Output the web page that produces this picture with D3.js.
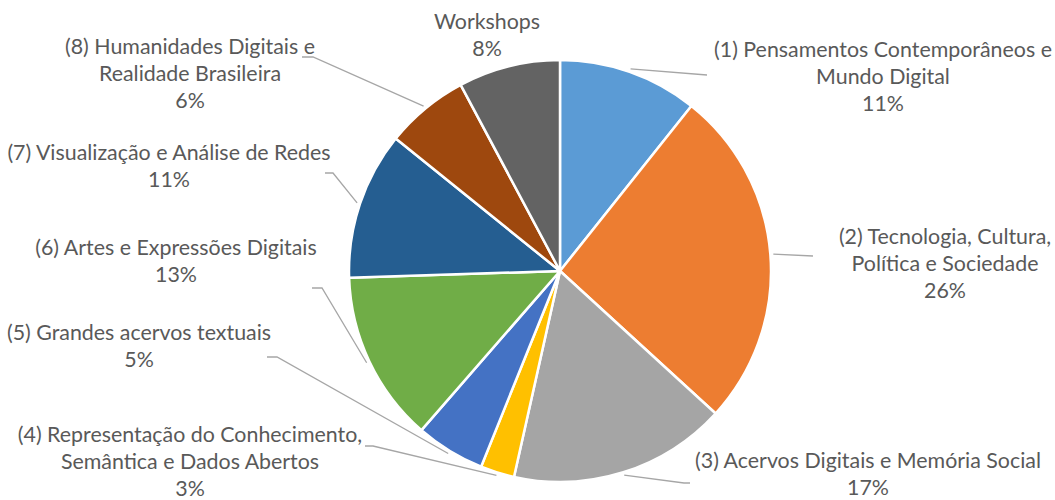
<!DOCTYPE html>
<html>
<head>
<meta charset="utf-8">
<script src="https://cdn.jsdelivr.net/npm/d3@7"></script>
<style>
  html, body { margin: 0; padding: 0; background: #fff; }
  svg { display: block; }
</style>
</head>
<body>
<svg id="chart" width="1055" height="500"></svg>
<script>
// ---- DATA ----
const categories = [
  "(1) Pensamentos Contemporâneos e Mundo Digital",
  "(2) Tecnologia, Cultura, Política e Sociedade",
  "(3) Acervos Digitais e Memória Social",
  "(4) Representação do Conhecimento, Semântica e Dados Abertos",
  "(5) Grandes acervos textuais",
  "(6) Artes e Expressões Digitais",
  "(7) Visualização e Análise de Redes",
  "(8) Humanidades Digitais e Realidade Brasileira",
  "Workshops"
];
const values = [10.7, 26.1, 16.7, 2.6, 5.3, 13.1, 11.3, 6.4, 7.8];
const labelLines = [
  ["(1) Pensamentos Contemporâneos e", "Mundo Digital"],
  ["(2) Tecnologia, Cultura,", "Política e Sociedade"],
  ["(3) Acervos Digitais e Memória Social"],
  ["(4) Representação do Conhecimento,", "Semântica e Dados Abertos"],
  ["(5) Grandes acervos textuais"],
  ["(6) Artes e Expressões Digitais"],
  ["(7) Visualização e Análise de Redes"],
  ["(8) Humanidades Digitais e", "Realidade Brasileira"],
  ["Workshops"]
];

// ---- LAYOUT / STYLE ----
const colors = ["#5B9BD5", "#ED7D31", "#A5A5A5", "#FFC000", "#4472C4",
                "#70AD47", "#255E91", "#9E480E", "#636363"];
// label block centre x and first-line centre y
const labelPos = [
  [883, 50], [945, 237], [868, 461], [190, 435], [139, 333],
  [176, 248], [169, 153], [190, 47], [487, 22]
];
// leader line: [elbow x, elbow y, end x]  (end shares elbow y)
const leaderPts = [
  [707, 75, 707], [813, 256, 813], [684, 483, 690], [373, 446, 365], [277, 357, 267],
  [322, 288, 312], [333, 173, 325], [313, 57, 302], null
];
const cx = 560, cy = 271, R = 211;
const lineH = 26.8;

const svg = d3.select("#chart");
const g = svg.append("g").attr("transform", `translate(${cx},${cy})`);

const pie = d3.pie().sort(null).value(d => d)(values);
const arc = d3.arc().innerRadius(0).outerRadius(R);
const outerArc = d3.arc().innerRadius(R + 3).outerRadius(R + 3);

g.selectAll("path.slice")
  .data(pie)
  .join("path")
  .attr("class", "slice")
  .attr("d", arc)
  .attr("fill", (d, i) => colors[i])
  .attr("stroke", "#fff")
  .attr("stroke-width", 2.5)
  .attr("stroke-linejoin", "round");

const total = d3.sum(values);
const fmt = v => Math.round(v / total * 100) + "%";

// leader lines
pie.forEach((d, i) => {
  const lp = leaderPts[i];
  if (!lp) return;
  const p0 = outerArc.centroid(d);
  const pts = [[p0[0] + cx, p0[1] + cy], [lp[0], lp[1]], [lp[2], lp[1]]];
  svg.append("path")
    .attr("d", d3.line()(pts))
    .attr("fill", "none")
    .attr("stroke", "#A6A6A6")
    .attr("stroke-width", 1.3);
});

// labels
const fontFamily = "Lato, 'Open Sans', sans-serif";
let fontSize = 20;
const labels = svg.append("g")
  .attr("font-family", fontFamily)
  .attr("fill", "#595959");

pie.forEach((d, i) => {
  const lines = labelLines[i].concat([fmt(values[i])]);
  const t = labels.append("text")
    .attr("class", "lbl")
    .attr("text-anchor", "middle")
    .attr("x", labelPos[i][0])
    .attr("y", labelPos[i][1]);
  lines.forEach((ln, j) => {
    t.append("tspan")
      .attr("x", labelPos[i][0])
      .attr("dy", j === 0 ? "0.35em" : lineH)
      .text(ln);
  });
});
labels.attr("font-size", fontSize);
// fit font size so the widest reference line matches its width
const ref = labels.select("text.lbl tspan").node();
const w = ref.getComputedTextLength();
fontSize = fontSize * 338 / w;
labels.attr("font-size", fontSize);
</script>
</body>
</html>
